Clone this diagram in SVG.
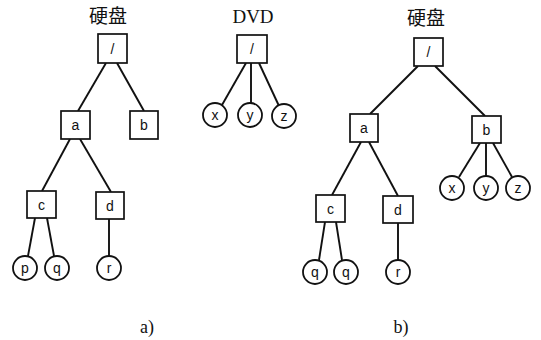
<svg xmlns="http://www.w3.org/2000/svg" width="541" height="340" viewBox="0 0 541 340">
<style>
.box{fill:#fff;stroke:#111;stroke-width:1.7}
.leaf{fill:#fff;stroke:#111;stroke-width:1.8}
.lbl{font-family:"Liberation Sans",Arial,sans-serif;font-size:14px;fill:#111;text-anchor:middle;dominant-baseline:central}
.title{font-family:"Liberation Serif","Noto Sans CJK SC",serif;font-size:19px;fill:#111;text-anchor:middle}
.cap{font-family:"Liberation Serif",serif;font-size:18px;fill:#111;text-anchor:middle}
#connectors line{stroke:#111;stroke-width:1.9}
</style>
<rect width="541" height="340" fill="#fff"/>
<g id="connectors">
<line x1="106" y1="63" x2="78" y2="111"/>
<line x1="117" y1="63" x2="144" y2="111"/>
<line x1="70" y1="139" x2="42" y2="191"/>
<line x1="80" y1="139" x2="111" y2="192"/>
<line x1="35" y1="218" x2="28" y2="256"/>
<line x1="47" y1="218" x2="54" y2="256"/>
<line x1="109" y1="219" x2="109" y2="256"/>
<line x1="246" y1="63" x2="222" y2="105"/>
<line x1="251" y1="63" x2="251" y2="103"/>
<line x1="259" y1="63" x2="279" y2="106"/>
<line x1="418" y1="66" x2="370" y2="114"/>
<line x1="435" y1="66" x2="485" y2="116"/>
<line x1="361" y1="142" x2="332" y2="195"/>
<line x1="369" y1="142" x2="398" y2="196"/>
<line x1="325" y1="222" x2="319" y2="260"/>
<line x1="336" y1="222" x2="342" y2="260"/>
<line x1="398" y1="223" x2="398" y2="260"/>
<line x1="480" y1="143" x2="459" y2="177"/>
<line x1="486" y1="143" x2="486" y2="176"/>
<line x1="493" y1="143" x2="512" y2="177"/>
</g>
<text class="title" x="108" y="23">硬盘</text>
<text class="title" x="253" y="23">DVD</text>
<text class="title" x="426" y="25">硬盘</text>
<text class="cap" x="147" y="333">a)</text>
<text class="cap" x="401" y="333">b)</text>
<g id="a-root"><rect class="box" x="98" y="34" width="29" height="29"/><text class="lbl" x="112.5" y="48.5">/</text></g>
<g id="a-a"><rect class="box" x="61" y="111" width="29" height="28"/><text class="lbl" x="75.5" y="125">a</text></g>
<g id="a-b"><rect class="box" x="130" y="111" width="28" height="28"/><text class="lbl" x="144" y="125">b</text></g>
<g id="a-c"><rect class="box" x="27" y="191" width="29" height="27"/><text class="lbl" x="41.5" y="204.5">c</text></g>
<g id="a-d"><rect class="box" x="96" y="192" width="28" height="27"/><text class="lbl" x="110" y="205.5">d</text></g>
<g id="a-p"><circle class="leaf" cx="25" cy="268" r="12"/><text class="lbl" x="25" y="268">p</text></g>
<g id="a-q"><circle class="leaf" cx="57" cy="268" r="12"/><text class="lbl" x="57" y="268">q</text></g>
<g id="a-r"><circle class="leaf" cx="109" cy="268" r="12"/><text class="lbl" x="109" y="268">r</text></g>
<g id="dvd-root"><rect class="box" x="237" y="35" width="30" height="28"/><text class="lbl" x="252" y="49">/</text></g>
<g id="dvd-x"><circle class="leaf" cx="215" cy="115" r="12"/><text class="lbl" x="215" y="115">x</text></g>
<g id="dvd-y"><circle class="leaf" cx="250" cy="115" r="12"/><text class="lbl" x="250" y="115">y</text></g>
<g id="dvd-z"><circle class="leaf" cx="284" cy="116" r="12"/><text class="lbl" x="284" y="116">z</text></g>
<g id="b-root"><rect class="box" x="414" y="38" width="29" height="28"/><text class="lbl" x="428.5" y="52">/</text></g>
<g id="b-a"><rect class="box" x="350" y="114" width="28" height="28"/><text class="lbl" x="364" y="128">a</text></g>
<g id="b-b"><rect class="box" x="472" y="116" width="29" height="27"/><text class="lbl" x="486.5" y="129.5">b</text></g>
<g id="b-c"><rect class="box" x="316" y="195" width="29" height="27"/><text class="lbl" x="330.5" y="208.5">c</text></g>
<g id="b-d"><rect class="box" x="383" y="196" width="30" height="27"/><text class="lbl" x="398" y="209.5">d</text></g>
<g id="b-q1"><circle class="leaf" cx="315" cy="272" r="12"/><text class="lbl" x="315" y="272">q</text></g>
<g id="b-q2"><circle class="leaf" cx="346" cy="272" r="12"/><text class="lbl" x="346" y="272">q</text></g>
<g id="b-r"><circle class="leaf" cx="398" cy="272" r="12"/><text class="lbl" x="398" y="272">r</text></g>
<g id="b-x"><circle class="leaf" cx="452" cy="188" r="12"/><text class="lbl" x="452" y="188">x</text></g>
<g id="b-y"><circle class="leaf" cx="486" cy="188" r="12"/><text class="lbl" x="486" y="188">y</text></g>
<g id="b-z"><circle class="leaf" cx="518" cy="188" r="12"/><text class="lbl" x="518" y="188">z</text></g>
</svg>
